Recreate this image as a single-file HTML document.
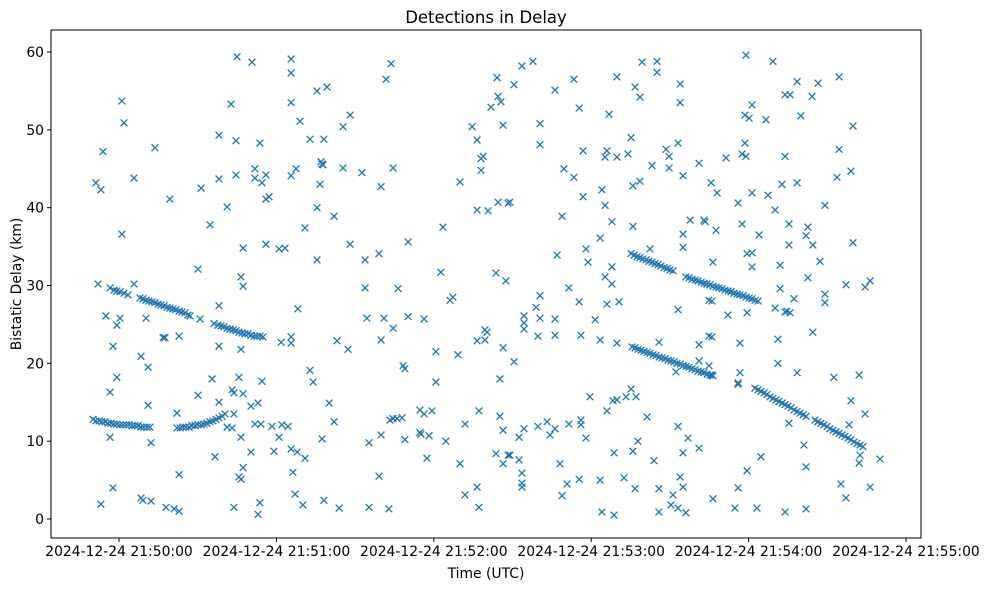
<!DOCTYPE html>
<html><head><meta charset="utf-8">
<style>
html,body{margin:0;padding:0;background:#fff;}
svg{display:block;font-family:"DejaVu Sans","Liberation Sans",sans-serif;}
</style></head>
<body>
<svg id="chart" width="988" height="590" viewBox="0 0 988 590">
<rect x="0" y="0" width="988" height="590" fill="#fff"/>
<text x="486" y="23" text-anchor="middle" font-size="16.5" fill="#000">Detections in Delay</text>
<text x="486" y="578" text-anchor="middle" font-size="13.9" fill="#000">Time (UTC)</text>
<text transform="translate(21,284) rotate(-90)" text-anchor="middle" font-size="13.9" fill="#000">Bistatic Delay (km)</text>
<g id="marks"></g>
<g id="axes"></g>
</svg>
<script>
// seconds after 2024-12-24 21:50:00 UTC
const xTickValues = [0, 60, 120, 180, 240, 300];
const xTickLabels = ["2024-12-24 21:50:00","2024-12-24 21:51:00","2024-12-24 21:52:00","2024-12-24 21:53:00","2024-12-24 21:54:00","2024-12-24 21:55:00"];
const yTickValues = [0, 10, 20, 30, 40, 50, 60];
const yTickLabels = ["0","10","20","30","40","50","60"];

const scatterTime = [45.0,50.7,65.6,65.6,1.1,42.7,65.6,1.9,38.1,44.6,53.7,-6.1,13.7,5.7,38.1,44.6,51.8,51.8,56.0,54.5,65.6,67.5,-8.8,-6.9,19.4,31.3,41.2,56.0,57.2,34.7,1.1,47.3,56.0,61.0,63.3,30.1,46.5,47.3,-8.0,5.7,
38.1,30.9,-5.0,0.4,-0.8,10.3,16.8,17.5,22.9,61.8,65.6,65.6,38.1,46.5,-2.3,8.4,11.1,-0.8,-3.4,35.5,45.7,54.5,43.1,43.8,47.3,30.1,38.1,50.3,53.0,11.1,22.1,43.8,41.2,43.1,51.8,54.1,58.3,62.1,64.4,61.0,46.5,-3.4,12.2,50.3,59.1,65.6,67.9,36.6,47.3,45.7,46.5,22.9,66.3,-2.3,67.1,8.4,9.1,12.2,17.9,21.0,22.9,-6.9,43.8,53.7,53.0,
103.7,101.8,144.1,75.5,79.3,144.5,141.8,145.6,88.1,85.4,134.6,146.4,69.0,72.8,78.1,136.5,138.8,138.0,138.0,77.0,77.8,77.4,85.4,92.6,104.5,76.6,99.9,130.0,136.5,140.7,144.5,148.3,75.5,82.0,70.9,123.5,88.1,110.2,75.5,93.8,99.1,122.7,143.7,147.5,93.8,106.4,
126.2,127.3,68.2,94.5,101.0,110.2,116.3,104.5,83.1,87.3,99.9,136.5,139.5,140.3,139.5,120.8,129.2,146.4,72.8,74.0,108.3,109.0,120.8,145.2,80.1,82.0,77.4,95.3,99.9,103.3,104.5,106.0,107.9,114.7,116.3,119.3,114.7,115.1,118.2,109.0,124.6,131.9,137.2,145.2,146.4,117.4,130.0,143.7,146.4,148.3,99.1,70.9,70.1,78.1,83.9,95.3,102.9,131.9,136.5,137.2,
153.6,157.8,150.6,166.2,173.4,189.8,199.4,205.1,205.1,196.7,198.6,213.9,213.9,175.4,186.8,160.5,160.5,195.2,213.1,208.5,209.7,176.9,186.0,185.3,189.8,194.0,203.2,209.7,215.0,221.1,169.6,173.4,195.9,198.6,225.7,228.0,184.1,176.9,149.0,185.3,168.9,187.9,195.9,217.7,223.0,223.4,227.6,215.0,183.4,215.0,178.0,202.4,167.0,178.8,226.4,187.9,185.3,187.9,171.5,
160.5,159.0,175.4,186.0,190.6,154.4,154.4,154.4,160.5,166.2,181.5,159.7,166.2,176.1,183.4,189.8,150.6,213.1,224.9,224.9,221.1,205.8,221.1,212.3,224.9,179.5,186.0,188.3,189.8,193.3,195.2,197.1,201.3,154.4,152.5,159.7,163.2,166.2,164.3,171.5,176.1,176.1,178.0,213.1,216.9,221.1,215.0,197.8,195.9,188.7,203.9,149.0,152.5,168.1,153.6,153.6,153.6,170.8,175.4,168.9,183.4,192.5,196.7,205.8,213.9,215.0,211.2,210.4,213.1,216.1,226.4,184.1,188.7,205.8,
239.0,249.3,274.5,258.5,266.5,253.9,255.8,264.2,241.3,238.6,240.2,246.6,259.9,279.8,238.6,237.5,239.0,231.4,253.9,274.5,279.0,273.7,241.3,247.4,252.7,258.5,236.0,250.1,269.1,237.5,244.0,255.4,262.6,261.9,264.5,255.4,279.8,239.4,241.3,241.3,252.0,267.2,262.6,277.1,284.4,286.3,252.0,
257.3,250.1,253.9,255.8,254.6,269.1,269.1,232.1,239.4,226.0,226.0,236.7,251.2,264.5,251.2,236.7,258.5,272.5,282.1,236.0,236.0,226.0,279.0,284.4,278.3,255.4,261.1,261.9,244.7,239.4,236.0,234.8,243.2,253.9,261.9,275.2,277.1,286.3,290.1,282.1,282.5];
const scatterDelay = [59.4,58.7,59.1,57.3,53.7,53.3,53.5,50.9,49.3,48.6,48.3,47.2,47.7,43.8,43.7,44.2,45.0,43.8,44.2,43.2,44.1,45.0,43.2,42.3,41.1,42.5,40.1,41.1,41.4,37.8,36.6,34.8,35.3,34.7,34.8,32.1,31.1,29.9,30.2,30.2,
27.4,25.7,26.1,25.8,24.9,25.8,23.3,23.3,23.5,22.7,23.4,22.6,22.2,21.8,22.2,20.9,19.5,18.2,16.3,18.0,18.2,17.7,16.6,16.2,16.1,15.9,15.0,14.5,14.9,14.6,13.6,13.5,11.8,11.7,12.2,12.2,11.9,12.1,11.9,10.5,10.5,10.5,9.8,8.6,8.7,9.0,8.6,8.0,6.6,5.4,5.1,5.7,6.0,4.0,3.2,2.7,2.4,2.3,1.5,1.3,1.0,1.9,1.5,2.1,0.6,
58.5,56.5,56.7,55.0,55.5,54.3,52.9,53.6,51.9,50.4,50.4,50.6,51.1,48.8,48.8,48.7,46.6,46.3,44.8,45.9,45.5,45.6,45.1,44.5,45.1,43.0,42.7,43.3,39.7,39.6,40.7,40.6,40.0,38.9,37.4,37.5,35.3,35.6,33.3,33.3,34.1,31.7,31.6,30.6,29.7,29.6,
28.1,28.5,27.0,25.8,25.8,26.0,25.7,24.5,22.9,21.8,23.0,22.9,23.0,24.0,24.3,21.5,21.1,22.0,19.1,17.6,19.7,19.3,17.6,18.0,14.9,12.5,10.3,9.8,10.8,12.7,12.9,12.9,13.0,14.0,13.5,13.9,11.1,10.9,10.7,10.2,10.0,12.2,13.9,13.2,11.4,7.8,7.1,8.4,7.1,8.2,5.5,7.8,1.8,2.4,1.4,1.5,1.3,3.1,4.1,1.5,
58.2,58.8,55.8,55.1,56.5,56.8,58.7,58.8,57.4,55.5,54.2,55.9,53.5,52.8,52.0,50.8,48.1,49.0,48.3,47.5,46.6,47.3,47.3,46.5,46.5,46.9,45.4,45.1,44.1,45.7,45.0,43.9,42.8,43.4,43.2,41.9,42.3,41.4,40.7,40.3,38.9,38.2,37.6,38.4,38.4,38.2,37.1,36.6,36.1,34.9,34.7,34.7,33.9,33.0,33.0,32.4,31.1,30.2,29.7,
28.7,27.2,27.9,27.6,27.9,26.1,25.2,24.4,25.8,25.7,25.6,23.5,23.6,23.6,23.0,22.6,20.2,26.9,28.1,23.5,22.4,22.7,20.3,18.9,19.7,15.7,13.9,15.2,15.3,15.7,16.7,15.7,13.1,11.6,10.5,11.9,12.5,11.6,10.8,12.2,12.7,12.1,10.4,11.9,10.4,9.1,8.5,10.0,8.7,8.5,7.5,8.2,7.6,7.1,5.9,4.6,4.1,4.5,5.1,3.0,5.0,5.3,3.9,3.9,5.4,4.1,3.1,1.8,1.4,0.8,2.6,0.9,0.5,0.9,
59.6,58.8,56.8,56.2,56.0,54.5,54.5,54.3,53.2,51.9,51.5,51.3,51.8,50.5,48.3,46.9,46.6,46.4,46.6,47.5,44.7,43.9,41.9,41.6,43.0,43.2,40.6,39.7,40.3,37.9,36.5,37.9,37.5,36.4,35.2,35.2,35.5,34.1,34.2,32.4,32.6,33.1,31.0,30.1,29.8,30.6,29.6,
28.3,27.1,26.6,26.5,26.7,28.9,27.8,26.2,26.5,28.0,23.4,22.6,23.1,24.0,20.0,18.8,18.8,18.2,18.5,17.5,17.3,18.5,15.2,13.5,12.1,12.3,9.5,6.7,8.0,6.2,4.0,1.4,1.4,0.9,1.3,4.5,2.7,4.1,7.7,7.2,8.2];

// dense tracks
const trackTime = [-3.4,-1.9,-0.8,0.4,1.9,3.4,8.0,9.1,10.3,11.4,12.6,13.7,14.9,16.0,17.2,18.3,19.4,20.6,21.7,22.9,24.0,25.2,26.3,27.1,
-9.9,-8.8,-7.6,-6.5,-5.3,-4.2,-3.0,-1.9,-0.8,0.4,1.5,2.7,3.8,5.0,6.1,7.2,8.4,9.5,10.7,11.8,
22.1,23.3,24.4,25.5,26.7,27.8,29.0,30.1,31.3,32.4,33.5,34.7,35.8,37.0,38.1,39.3,40.4,
36.2,37.7,38.9,40.0,41.2,42.3,43.5,44.6,45.7,46.9,48.0,49.2,50.3,51.5,52.6,53.8,54.9,
195.2,196.3,197.5,198.6,199.7,200.9,202.0,203.2,204.3,205.5,206.6,207.8,208.9,210.1,211.2,
216.1,217.3,218.4,219.6,220.7,221.9,223.0,224.1,225.3,226.4,227.6,228.7,229.9,231.0,232.2,233.3,234.4,235.6,236.7,237.9,239.0,240.2,241.3,242.5,243.6,
195.6,196.7,197.9,199.0,200.1,201.3,202.4,203.6,204.7,205.9,207.0,208.2,209.3,210.4,211.6,212.7,213.9,215.0,216.2,217.3,218.4,219.6,220.7,221.9,223.0,224.2,225.3,226.4,
242.4,243.6,244.7,245.9,247.0,248.2,249.3,250.5,251.6,252.8,253.9,255.0,256.2,257.3,258.5,259.6,260.8,261.9,
265.3,266.4,267.6,268.7,269.9,271.0,272.2,273.3,274.5,275.6,276.7,277.9,279.0,280.2,281.3,282.5,283.6];
const trackDelay = [29.7,29.4,29.3,29.2,29.0,28.8,28.4,28.3,28.1,28.0,27.9,27.8,27.6,27.5,27.4,27.2,27.1,27.0,26.9,26.7,26.6,26.5,26.2,26.1,
12.8,12.6,12.6,12.5,12.5,12.3,12.3,12.2,12.2,12.1,12.1,12.1,12.1,12.0,12.0,12.0,11.8,11.8,11.8,11.8,
11.7,11.7,11.8,11.8,11.8,12.0,12.0,12.1,12.1,12.2,12.3,12.5,12.6,12.8,13.0,13.2,13.5,
25.1,24.9,24.8,24.7,24.5,24.4,24.3,24.2,24.0,23.9,23.8,23.8,23.6,23.5,23.5,23.5,23.4,
34.1,33.9,33.7,33.6,33.4,33.3,33.1,33.0,32.8,32.7,32.5,32.3,32.2,32.0,31.9,
31.1,31.0,30.8,30.7,30.6,30.4,30.3,30.2,30.1,29.9,29.8,29.7,29.6,29.4,29.3,29.2,29.0,28.9,28.8,28.7,28.5,28.4,28.3,28.1,28.0,
22.1,22.0,21.8,21.7,21.5,21.4,21.3,21.1,21.0,20.8,20.7,20.6,20.4,20.3,20.2,20.0,19.9,19.7,19.6,19.5,19.3,19.2,19.0,18.9,18.8,18.6,18.5,18.4,
16.8,16.6,16.4,16.2,16.0,15.7,15.5,15.3,15.1,14.9,14.7,14.5,14.3,14.0,13.8,13.6,13.4,13.2,
12.7,12.5,12.3,12.1,11.9,11.6,11.4,11.2,11.0,10.8,10.6,10.4,10.2,9.9,9.7,9.5,9.3];

const PLOT = {left:51, right:921, top:30, bottom:538};
const xOrigin = 119, pxPerSec = 157.4/60;
const yOrigin = 519, pxPerKm = 7.783;
function xScale(t){ return xOrigin + t*pxPerSec; }
function yScale(d){ return yOrigin - d*pxPerKm; }

const NS = "http://www.w3.org/2000/svg";
const marks = document.getElementById("marks");
const axes = document.getElementById("axes");
const COLOR = "#1f77b4";

function drawX(t, d){
  const cx = xScale(t), cy = yScale(d), r = 3.4;
  const p = document.createElementNS(NS, "path");
  p.setAttribute("d", `M${cx-r},${cy-r}L${cx+r},${cy+r}M${cx-r},${cy+r}L${cx+r},${cy-r}`);
  p.setAttribute("stroke", COLOR);
  p.setAttribute("stroke-width", "1.3");
  p.setAttribute("fill", "none");
  
  
  marks.appendChild(p);
}
for (let i = 0; i < scatterTime.length && i < scatterDelay.length; i++) drawX(scatterTime[i], scatterDelay[i]);
for (let i = 0; i < trackTime.length && i < trackDelay.length; i++) drawX(trackTime[i], trackDelay[i]);

const frame = document.createElementNS(NS, "rect");
frame.setAttribute("x", PLOT.left); frame.setAttribute("y", PLOT.top);
frame.setAttribute("width", PLOT.right - PLOT.left); frame.setAttribute("height", PLOT.bottom - PLOT.top);
frame.setAttribute("fill", "none"); frame.setAttribute("stroke", "#000"); frame.setAttribute("stroke-width", "1");


axes.appendChild(frame);

xTickValues.forEach((v, i) => {
  const x = xScale(v);
  const ln = document.createElementNS(NS, "line");
  ln.setAttribute("x1", x); ln.setAttribute("x2", x);
  ln.setAttribute("y1", PLOT.bottom); ln.setAttribute("y2", PLOT.bottom + 4);
  ln.setAttribute("stroke", "#000");
  
  
  axes.appendChild(ln);
  const tx = document.createElementNS(NS, "text");
  tx.setAttribute("x", x); tx.setAttribute("y", PLOT.bottom + 18);
  tx.setAttribute("text-anchor", "middle"); tx.setAttribute("font-size", "13.9");
  tx.textContent = xTickLabels[i];
  
  
  axes.appendChild(tx);
});
yTickValues.forEach((v, i) => {
  const y = yScale(v);
  const ln = document.createElementNS(NS, "line");
  ln.setAttribute("x1", PLOT.left - 4); ln.setAttribute("x2", PLOT.left);
  ln.setAttribute("y1", y); ln.setAttribute("y2", y);
  ln.setAttribute("stroke", "#000");
  
  
  axes.appendChild(ln);
  const tx = document.createElementNS(NS, "text");
  tx.setAttribute("x", PLOT.left - 7); tx.setAttribute("y", y + 5);
  tx.setAttribute("text-anchor", "end"); tx.setAttribute("font-size", "13.9");
  tx.textContent = yTickLabels[i];
  
  
  axes.appendChild(tx);
});
</script>
</body></html>
